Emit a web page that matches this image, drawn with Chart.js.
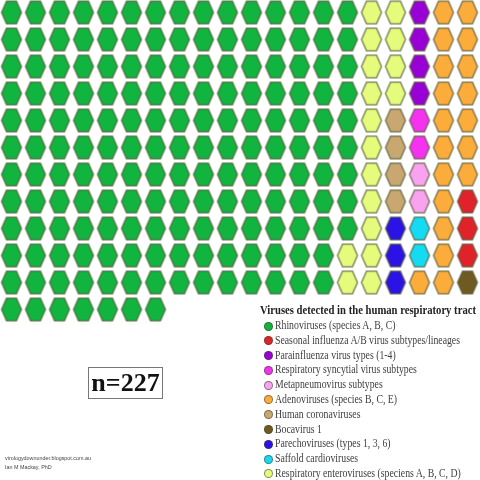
<!DOCTYPE html>
<html>
<head>
<meta charset="utf-8">
<script src="https://cdn.jsdelivr.net/npm/chart.js@4.4.1/dist/chart.umd.min.js"></script>
<style>
  html, body { margin: 0; padding: 0; background: #fff; }
  #wrap { position: relative; width: 480px; height: 480px; overflow: hidden; }
  #c { position: absolute; left: 0; top: 0; }
  #legend { position: absolute; left: 260px; top: 303px; font-family: "Liberation Serif", "DejaVu Serif", serif; color: #333; }
  #legend .title { font-weight: bold; font-size: 12.5px; color: #222; white-space: nowrap; height: 15px; line-height: 15px; transform-origin: 0 50%; }
  #legend .item { font-size: 12px; line-height: 14.8px; height: 14.8px; white-space: nowrap; position: relative; padding-left: 15px; color: #3e3e3e; }
  #legend .txt { display: inline-block; transform-origin: 0 50%; }
  #legend .dot { position: absolute; left: 4px; top: 3.5px; width: 7px; height: 7px; border-radius: 50%; border: 0.8px solid rgba(60,60,40,0.55); }
  #nbox { position: absolute; left: 88px; top: 367px; width: 73px; height: 30px; border: 1px solid #777; font-family: "Liberation Serif", serif; font-weight: bold; font-size: 26px; line-height: 30px; text-align: center; color: #111; }
  #credit { position: absolute; left: 5px; top: 454px; font-family: "Liberation Sans", Arial, sans-serif; font-size: 6px; line-height: 8.5px; color: #444; transform-origin: 0 0; }
</style>
</head>
<body>
<div id="wrap">
  <canvas id="c" width="480" height="480"></canvas>
  <div id="legend"></div>
  <div id="nbox"></div>
  <div id="credit"><span id="cr1">virologydownunder.blogspot.com.au</span><br>Ian M Mackay, PhD</div>
</div>
<script>
// ---- Data ----
const legendTitle = "Viruses detected in the human respiratory tract";
const categories = [
  "Rhinoviruses (species A, B, C)",
  "Seasonal influenza A/B virus subtypes/lineages",
  "Parainfluenza virus types (1-4)",
  "Respiratory syncytial virus subtypes",
  "Metapneumovirus subtypes",
  "Adenoviruses (species B, C, E)",
  "Human coronaviruses",
  "Bocavirus 1",
  "Parechoviruses (types 1, 3, 6)",
  "Saffold cardioviruses",
  "Respiratory enteroviruses (speciens A, B, C, D)"
];
const codes = ["R", "I", "P", "S", "M", "A", "C", "B", "H", "F", "E"];
const colors = ["#10b43f", "#e0232a", "#9900d6", "#f532f0", "#f9a2ef", "#fbac3b", "#c9a770", "#6f5b22", "#2b13e6", "#14dbf2", "#e4fb7c"];
const counts = [170, 3, 4, 2, 2, 19, 4, 1, 3, 2, 17];
// waffle layout: one string per row, one code per cell
const layout = [
  "RRRRRRRRRRRRRRREEPAA",
  "RRRRRRRRRRRRRRREEPAA",
  "RRRRRRRRRRRRRRREEPAA",
  "RRRRRRRRRRRRRRREEPAA",
  "RRRRRRRRRRRRRRRECSAA",
  "RRRRRRRRRRRRRRRECSAA",
  "RRRRRRRRRRRRRRRECMAA",
  "RRRRRRRRRRRRRRRECMAI",
  "RRRRRRRRRRRRRRREHFAI",
  "RRRRRRRRRRRRRREEHFAI",
  "RRRRRRRRRRRRRREEHAAB",
  "RRRRRRR"
];
const total = counts.reduce((a, b) => a + b, 0);

// ---- hexagon point images ----
function hexImage(fill) {
  const w = 24, h = 26;
  const cv = document.createElement('canvas');
  cv.width = w; cv.height = h;
  const g = cv.getContext('2d');
  const cx = w / 2, cy = h / 2, hw = 10.0, hh = 11.3;
  g.beginPath();
  g.moveTo(cx - hw, cy);
  g.lineTo(cx - hw / 2, cy - hh);
  g.lineTo(cx + hw / 2, cy - hh);
  g.lineTo(cx + hw, cy);
  g.lineTo(cx + hw / 2, cy + hh);
  g.lineTo(cx - hw / 2, cy + hh);
  g.closePath();
  g.fillStyle = fill;
  g.fill();
  g.lineWidth = 1.3;
  g.strokeStyle = "rgba(85,90,55,0.8)";
  g.stroke();
  return cv;
}

const datasets = categories.map((name, i) => {
  const pts = [];
  layout.forEach((row, r) => {
    for (let c = 0; c < row.length; c++) {
      if (row[c] === codes[i]) pts.push({ x: c, y: r });
    }
  });
  return {
    label: name,
    data: pts,
    pointStyle: hexImage(colors[i]),
    backgroundColor: colors[i],
    borderColor: colors[i]
  };
});

const colStep = 24, rowStep = 27;
const xMin = -11.5 / colStep, yMin = -12.5 / rowStep;

new Chart(document.getElementById('c'), {
  type: 'scatter',
  data: { datasets },
  options: {
    responsive: false,
    animation: false,
    events: [],
    layout: { padding: 0, autoPadding: false },
    plugins: { legend: { display: false }, tooltip: { enabled: false } },
    scales: {
      x: { type: 'linear', display: false, min: xMin, max: xMin + 480 / colStep },
      y: { type: 'linear', display: false, reverse: true, min: yMin, max: yMin + 480 / rowStep }
    },
    elements: { point: { radius: 11 } },
    clip: false
  }
});

// ---- legend & labels ----
const lg = document.getElementById('legend');
const t = document.createElement('div');
t.className = 'title';
lg.appendChild(t);
const tSpan = document.createElement('span');
tSpan.textContent = legendTitle;
tSpan.style.display = 'inline-block';
tSpan.style.transformOrigin = '0 50%';
t.appendChild(tSpan);
const spans = [];
categories.forEach((name, i) => {
  const d = document.createElement('div');
  d.className = 'item';
  const dot = document.createElement('span');
  dot.className = 'dot';
  dot.style.background = colors[i];
  d.appendChild(dot);
  const s = document.createElement('span');
  s.className = 'txt';
  s.textContent = name;
  d.appendChild(s);
  spans.push(s);
  lg.appendChild(d);
});
document.getElementById('nbox').textContent = 'n=' + total;

// horizontal fitting of text to the reference widths
const tScale = 216 / tSpan.getBoundingClientRect().width;
tSpan.style.transform = 'scaleX(' + tScale + ')';
const iScale = 185 / spans[1].getBoundingClientRect().width;
spans.forEach(s => s.style.transform = 'scaleX(' + iScale + ')');
const cr = document.getElementById('credit');
const cScale = 86 / document.getElementById('cr1').getBoundingClientRect().width;
cr.style.transform = 'scaleX(' + cScale + ')';
</script>
</body>
</html>
